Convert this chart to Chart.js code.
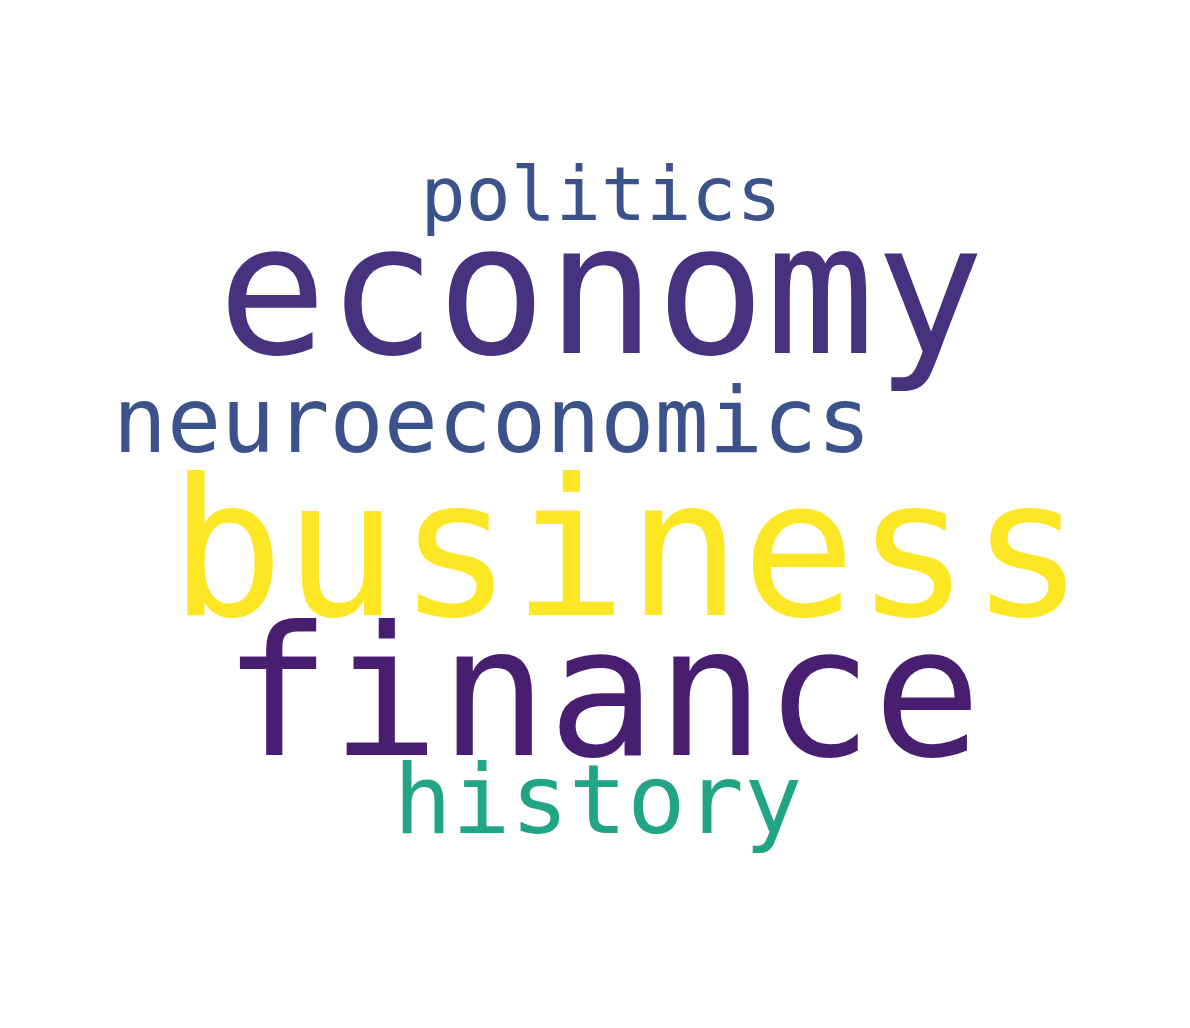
<!DOCTYPE html>
<html>
<head>
<meta charset="UTF-8">
<title>Word cloud</title>
<script src="https://cdn.jsdelivr.net/npm/chart.js@4.4.0/dist/chart.umd.min.js"></script>
<style>
  html, body { margin: 0; padding: 0; background: #fff; }
  .chart-container { position: relative; width: 1190px; height: 1028px; }
</style>
</head>
<body>
<div class="chart-container">
  <canvas id="chart"></canvas>
</div>
<script>
// word cloud data: words, their weights and where the layout placed them
const words   = ['business', 'economy', 'finance', 'neuroeconomics', 'history', 'politics']
const weights = [190, 182, 180, 90, 97, 75]
const wordX   = [627, 601, 602, 492, 598, 601]
const wordY   = [615, 353, 755, 452, 833, 220]
const colors  = ['#fde725', '#46327e', '#481f70', '#3b528b', '#21a585', '#3b528b']

const wordPlugin = {
  id: 'words',
  afterDatasetsDraw(chart) {
    const ctx = chart.ctx
    const meta = chart.getDatasetMeta(0)
    ctx.save()
    ctx.textAlign = 'center'
    ctx.textBaseline = 'alphabetic'
    meta.data.forEach((pt, i) => {
      ctx.font = weights[i] + 'px "DejaVu Sans Mono", monospace'
      ctx.fillStyle = colors[i]
      ctx.fillText(words[i], pt.x, pt.y)
    })
    ctx.restore()
  }
}

const ctx = document.querySelector('#chart').getContext('2d')
const chart = new Chart(ctx, {
  type: 'scatter',
  data: {
    datasets: [{
      label: 'words',
      data: words.map((w, i) => ({ x: wordX[i], y: wordY[i] })),
      pointRadius: 0,
      pointHoverRadius: 0
    }]
  },
  options: {
    responsive: true,
    maintainAspectRatio: false,
    animation: false,
    layout: { padding: 0 },
    plugins: { legend: { display: false }, tooltip: { enabled: false } },
    scales: {
      x: { display: false, min: 0, max: 1190 },
      y: { display: false, min: 0, max: 1028, reverse: true }
    }
  },
  plugins: [wordPlugin]
})
</script>
</body>
</html>
